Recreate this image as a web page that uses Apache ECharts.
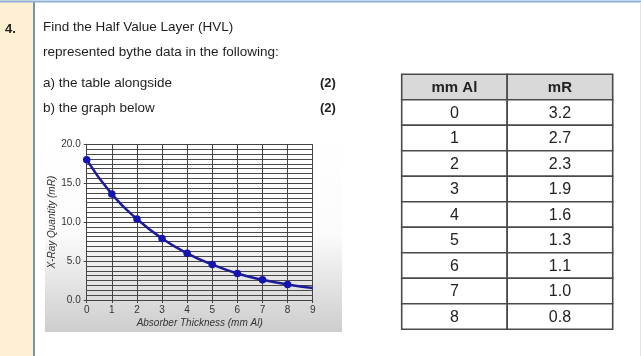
<!DOCTYPE html>
<html>
<head>
<meta charset="utf-8">
<script src="https://cdn.jsdelivr.net/npm/echarts@6/dist/echarts.min.js"></script>
<style>
html,body{margin:0;padding:0;background:#fff;}
#c{width:641px;height:356px;}
</style>
</head>
<body>
<div id="c"></div>
<script>
// ---- Data ----
var graphX = [0, 1, 2, 3, 4, 5, 6, 7, 8, 9];
var graphY = [18.0, 13.6, 10.4, 7.9, 6.0, 4.55, 3.4, 2.6, 2.0, 1.55];
var markedPoints = 9; // points 0..8 carry markers, curve continues to 9
var xTicks = ['0', '1', '2', '3', '4', '5', '6', '7', '8', '9'];
var tableHeaders = ['mm Al', 'mR'];
var tableThickness = ['0', '1', '2', '3', '4', '5', '6', '7', '8'];
var tableMR = ['3.2', '2.7', '2.3', '1.9', '1.6', '1.3', '1.1', '1.0', '0.8'];
var questionLines = ['Find the Half Value Layer (HVL)', 'represented bythe data in the following:'];
var parts = ['a) the table alongside', 'b) the graph below'];
var marks = ['(2)', '(2)'];

var FONT = '"Liberation Sans", Arial, sans-serif';

// build line data
var lineData = graphX.map(function (x, i) {
  var d = { value: [x, graphY[i]] };
  if (i >= markedPoints) d.symbol = 'none';
  return d;
});

// build table cell data: [col, row, text, isHeader]
var tableRows = [tableHeaders].concat(tableThickness.map(function (t, i) { return [t, tableMR[i]]; }));
var cellData = [];
tableRows.forEach(function (r, ri) {
  r.forEach(function (txt, ci) {
    cellData.push([ci, ri, txt, ri === 0 ? 1 : 0]);
  });
});

var chart = echarts.init(document.getElementById('c'), null, { renderer: 'canvas' });

var graphics = [
  { type: 'rect', z: -10, shape: { x: 0, y: 0, width: 33, height: 356 }, style: { fill: '#fdefd2' } },
  { type: 'line', z: -5, shape: { x1: 34, y1: 2, x2: 34, y2: 356 }, style: { stroke: '#7396ab', lineWidth: 2 } },
  { type: 'line', z: -5, shape: { x1: 0, y1: 1.5, x2: 641, y2: 1.5 }, style: { stroke: '#8db0d8', lineWidth: 2 } },
  { type: 'line', z: -5, shape: { x1: 640.5, y1: 2, x2: 640.5, y2: 356 }, style: { stroke: '#e3e3e3', lineWidth: 1 } },
  { type: 'rect', z: -8, shape: { x: 45, y: 138, width: 297, height: 194 },
    style: { fill: new echarts.graphic.LinearGradient(0, 0, 0, 1, [
      { offset: 0, color: '#ffffff' }, { offset: 0.5, color: '#fbfbfb' }, { offset: 1, color: '#cdcdcd' }
    ]) } },
  { type: 'text', x: 5, y: 29, style: { text: '4.', font: 'bold 13px ' + FONT, fill: '#222', verticalAlign: 'middle' } }
];
questionLines.forEach(function (t, i) {
  graphics.push({ type: 'text', x: 43, y: [27, 52][i], style: { text: t, font: '13.5px ' + FONT, fill: '#1e1e1e', verticalAlign: 'middle' } });
});
parts.forEach(function (t, i) {
  graphics.push({ type: 'text', x: 43, y: [83.5, 108][i], style: { text: t, font: '13.5px ' + FONT, fill: '#1e1e1e', verticalAlign: 'middle' } });
  graphics.push({ type: 'text', x: 320, y: [83.5, 108][i], style: { text: marks[i], font: 'bold 13px ' + FONT, fill: '#222', verticalAlign: 'middle' } });
});

var option = {
  animation: false,
  backgroundColor: '#ffffff',
  textStyle: { fontFamily: FONT },
  graphic: graphics,
  grid: [
    { left: 86.7, right: 328.3, top: 144.3, bottom: 56, show: false },
    { left: 401.7, top: 74.3, width: 211, height: 255, show: false }
  ],
  xAxis: [
    {
      gridIndex: 0, type: 'value', min: 0, max: 9, interval: 1,
      name: 'Absorber Thickness (mm Al)', nameLocation: 'middle', nameGap: 18,
      nameTextStyle: { fontStyle: 'italic', fontSize: 10, color: '#333', fontFamily: FONT },
      axisLine: { show: true, lineStyle: { color: '#444', width: 1 } },
      axisTick: { show: true, length: 3, lineStyle: { color: '#444' } },
      axisLabel: { fontSize: 10, color: '#333', margin: 5, formatter: function (v) { return xTicks[v]; } },
      splitLine: { show: true, lineStyle: { color: '#444', width: 1 } }
    },
    { gridIndex: 1, type: 'category', data: [0, 1], show: false }
  ],
  yAxis: [
    {
      gridIndex: 0, type: 'value', min: 0, max: 20, interval: 5,
      name: 'X-Ray Quantity (mR)', nameLocation: 'middle', nameRotate: 90, nameGap: 27,
      nameTextStyle: { fontStyle: 'italic', fontSize: 10, color: '#333', fontFamily: FONT },
      axisLine: { show: true, lineStyle: { color: '#444', width: 1 } },
      axisTick: { show: true, length: 3, lineStyle: { color: '#444' } },
      axisLabel: { fontSize: 10, color: '#333', margin: 6, formatter: function (v) { return v.toFixed(1); } },
      splitLine: { show: true, lineStyle: { color: '#444', width: 1 } },
      minorTick: { show: false, splitNumber: 8 },
      minorSplitLine: { show: true, lineStyle: { color: '#4a4a4a', width: 1 } }
    },
    { gridIndex: 1, type: 'category', data: [0, 1, 2, 3, 4, 5, 6, 7, 8, 9], inverse: true, show: false }
  ],
  series: [
    {
      type: 'line', xAxisIndex: 0, yAxisIndex: 0, data: lineData,
      smooth: true, symbol: 'circle', symbolSize: 7.5, showSymbol: true,
      lineStyle: { color: '#1c1c98', width: 2.5 },
      itemStyle: { color: '#1414b0' },
      z: 5
    },
    {
      type: 'custom', xAxisIndex: 1, yAxisIndex: 1, data: cellData,
      encode: { x: 0, y: 1 },
      renderItem: function (params, api) {
        var c = api.coord([api.value(0), api.value(1)]);
        var s = api.size([1, 1]);
        var isHeader = api.value(3) === 1;
        return {
          type: 'group',
          children: [
            { type: 'rect', shape: { x: c[0] - s[0] / 2, y: c[1] - s[1] / 2, width: s[0], height: s[1] },
              style: { fill: isHeader ? '#d9d9d9' : '#ffffff', stroke: '#4a4a4a', lineWidth: 1.6 } },
            { type: 'text', x: c[0], y: c[1] + 1,
              style: { text: String(api.value(2)), font: (isHeader ? 'bold 15px ' : '16px ') + FONT,
                       fill: '#222', align: 'center', verticalAlign: 'middle' } }
          ]
        };
      }
    }
  ]
};
chart.setOption(option);
</script>
</body>
</html>
